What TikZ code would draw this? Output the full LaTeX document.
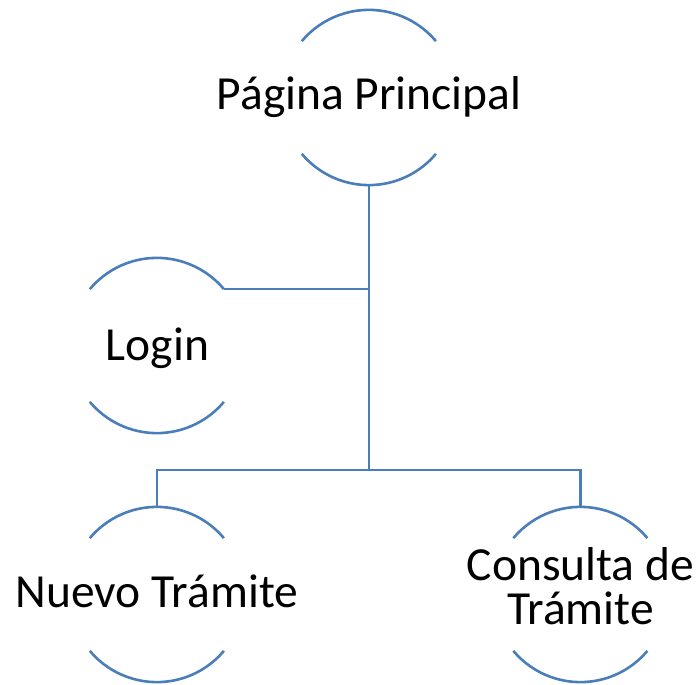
\documentclass[tikz,border=0pt]{standalone}
\usepackage{fontspec}
\setmainfont{Carlito}
\definecolor{lineblue}{HTML}{4A7EBB}
\tikzset{
  hub/.style={circle, minimum size=175pt, inner sep=0pt, draw=none},
  rim/.style={draw=lineblue, line width=2.6pt},
  link/.style={draw=lineblue, line width=2.6pt},
  label/.style={font=\fontsize{47.5}{44}\selectfont, align=center, inner sep=0pt, anchor=base}
}
\begin{document}
\begin{tikzpicture}[x=1pt, y=-1pt]
\useasboundingbox (0,0) rectangle (700,684);
% invisible circle holders
\node[hub] (pp) at (369,97.5) {};
\node[hub] (login) at (157,345.5) {};
\node[hub] (nuevo) at (157,594.5) {};
\node[hub] (cons) at (580.5,594.5) {};
% arcs (top and bottom of each circle)
\foreach \n in {pp,login,nuevo,cons}{
  \draw[rim] (\n.140) arc[start angle=140, end angle=40, radius=87.5pt];
  \draw[rim] (\n.220) arc[start angle=220, end angle=320, radius=87.5pt];
}
% labels
\node[label] (tpp) at (369,110) {Página Principal};
\node[label] (tlogin) at (157.5,360) {Login};
\node[label] (tnuevo) at (157,607) {Nuevo Trámite};
\node[label] (tcons) at (580.5,624) {Consulta de\\Trámite};
% connectors
\coordinate (bus) at (369,470);
\draw[link] (pp.south) -- (bus);
\draw[link] (login.40) -- (login.40 -| pp.south);
\draw[link] (nuevo.north) |- (bus) -| (cons.north);
\end{tikzpicture}
\end{document}
